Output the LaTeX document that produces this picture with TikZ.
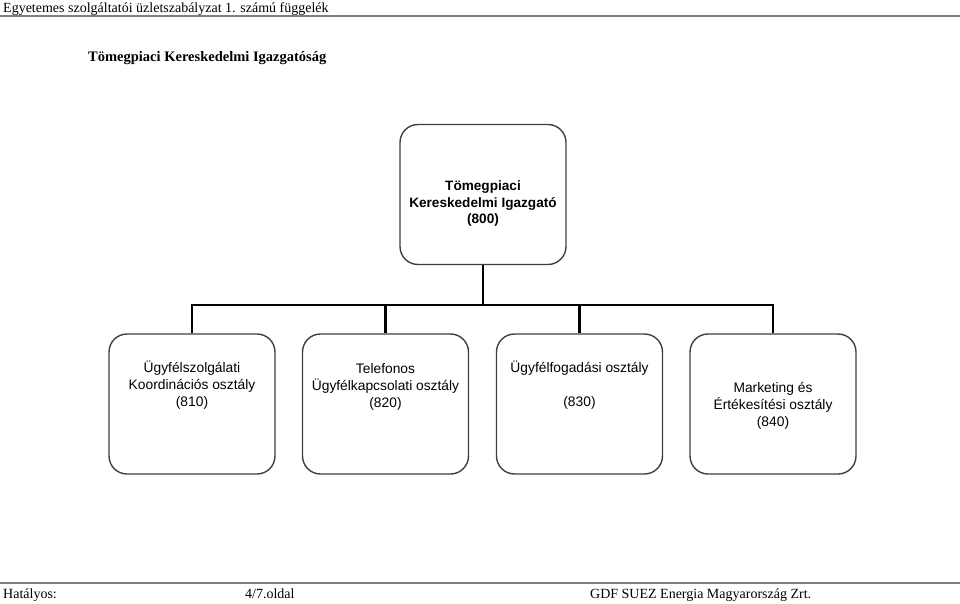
\documentclass[tikz,border=0pt]{standalone}
\usepackage{fontspec}
\setmainfont{Liberation Serif}
\newfontfamily\boxfont{Liberation Sans}
\usepackage{xcolor}
\definecolor{rulegrey}{HTML}{808080}
\definecolor{boxgrey}{HTML}{404040}
\usepackage{tikz}

\tikzset{
  unitbox/.style={draw=boxgrey,line width=1.4pt,rounded corners=18pt,fill=white,
    minimum width=166pt,minimum height=140pt,inner sep=0pt},
  unittext/.style={align=center,font=\boxfont\fontsize{13.8}{17}\selectfont,inner sep=0pt},
  branch/.style={line width=2.6pt},
  pagetext/.style={anchor=base west,font=\fontsize{14}{16}\selectfont,inner sep=0pt}
}

\begin{document}
\begin{tikzpicture}[x=1pt,y=-1pt]
\useasboundingbox (0,0) rectangle (960,604);

% header and footer
\node[pagetext] (head) at (3,12.5) {Egyetemes szolgáltatói üzletszabályzat 1. számú függelék};
\draw[rulegrey,line width=2pt] (0,16) -- (960,16);
\node[pagetext,font=\bfseries\fontsize{14.5}{16}\selectfont] (title) at (88,62) {Tömegpiaci Kereskedelmi Igazgatóság};

\draw[rulegrey,line width=1.5pt] (0,583) -- (960,583);
\node[pagetext] (valid) at (3,598) {Hatályos:};
\node[pagetext] (page) at (245,598) {4/7.oldal};
\node[pagetext] (firm) at (590,598) {GDF SUEZ Energia Magyarország Zrt.};

% boxes
\node[unitbox] (top) at (483,194.5) {};
\node[unittext,font=\boxfont\bfseries\fontsize{13.6}{16.5}\selectfont] (ttop) at (483,203.5) {Tömegpiaci\\Kereskedelmi Igazgató\\(800)};

\node[unitbox] (c1) at (192,404) {};
\node[unitbox] (c2) at (385.5,404) {};
\node[unitbox] (c3) at (579.5,404) {};
\node[unitbox] (c4) at (773,404) {};

\node[unittext] (t1) at (192,385) {Ügyfélszolgálati\\Koordinációs osztály\\(810)};
\node[unittext] (t2) at (385.5,387) {Telefonos\\Ügyfélkapcsolati osztály\\(820)};
\node[unittext] (t3) at (579.5,385) {Ügyfélfogadási osztály\\[17pt](830)};
\node[unittext] (t4) at (773,405.5) {Marketing és\\Értékesítési osztály\\(840)};

% connectors
\coordinate (bar) at (483,305);
\draw[branch] (top.south) -- (top.south |- bar);
\draw[branch] (c1.north) |- (c4.north |- bar) -- (c4.north);
\draw[branch] (c2.north) -- (c2.north |- bar);
\draw[branch] (c3.north) -- (c3.north |- bar);

\end{tikzpicture}
\end{document}
